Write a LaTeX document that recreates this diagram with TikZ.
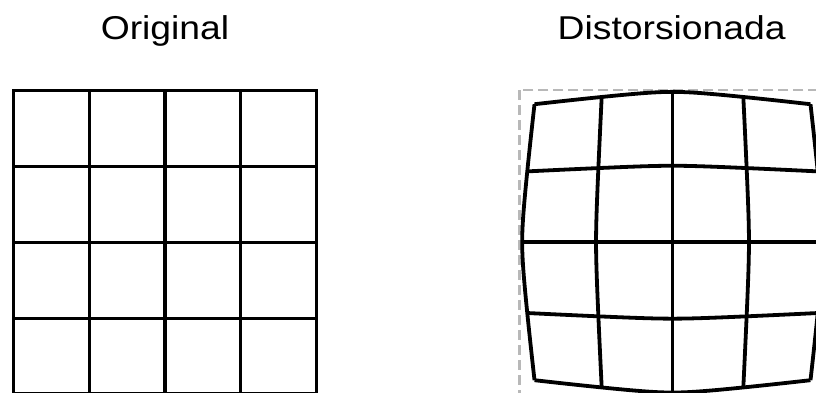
\documentclass[tikz,border=0pt]{standalone}
\usepackage{fontspec}
\setmainfont{Liberation Sans}

\begin{document}
\begin{tikzpicture}[x=1pt, y=-1pt,
        declare function={warpf(\uu,\vv)=1.023-0.034*abs(\uu)-(0.082+0.017*abs(\uu))*(sqrt(\vv*\vv+0.04)-0.2);},
        gridline/.style={line width=3.2pt},
        warpline/.style={line width=3.8pt, line join=round},
        frameline/.style={line width=2.4pt, black!28, dash pattern=on 10pt off 5pt},
        title/.style={anchor=base, font=\fontsize{33}{40}\selectfont}]

        % Page
        \useasboundingbox (0,0) rectangle (816,392);
        \clip (0,0) rectangle (816,392);

        % Titles
        \node[title] (orig) at (165,39.3) {\scalebox{1.13}[1]{Original}};
        \node[title] (dist) at (671.7,39.3) {\scalebox{1.13}[1]{Distorsionada}};

        % Original grid
        \draw[gridline] (13.3,90.7) rectangle (316.5,393.9);
        \foreach \k in {1,2,3} {
            \draw[gridline] (13.3+75.8*\k,90.7) -- (13.3+75.8*\k,393.9);
            \draw[gridline] (13.3,90.7+75.8*\k) -- (316.5,90.7+75.8*\k);
        }

        % Frame of the distorted grid
        \draw[frameline] (519.5,90.2) rectangle (822.7,393.9);

        % Distorted grid: columns and rows
        \foreach \u in {-1,-0.5,0,0.5,1} {
            \draw[warpline] plot[domain=-1:1, samples=61, variable=\t]
                ({672.5+152*\u*warpf(\u,\t)}, {242.2+152*\t*warpf(\t,\u)});
            \draw[warpline] plot[domain=-1:1, samples=61, variable=\t]
                ({672.5+152*\t*warpf(\t,\u)}, {242.2+152*\u*warpf(\u,\t)});
        }

\end{tikzpicture}
\end{document}
